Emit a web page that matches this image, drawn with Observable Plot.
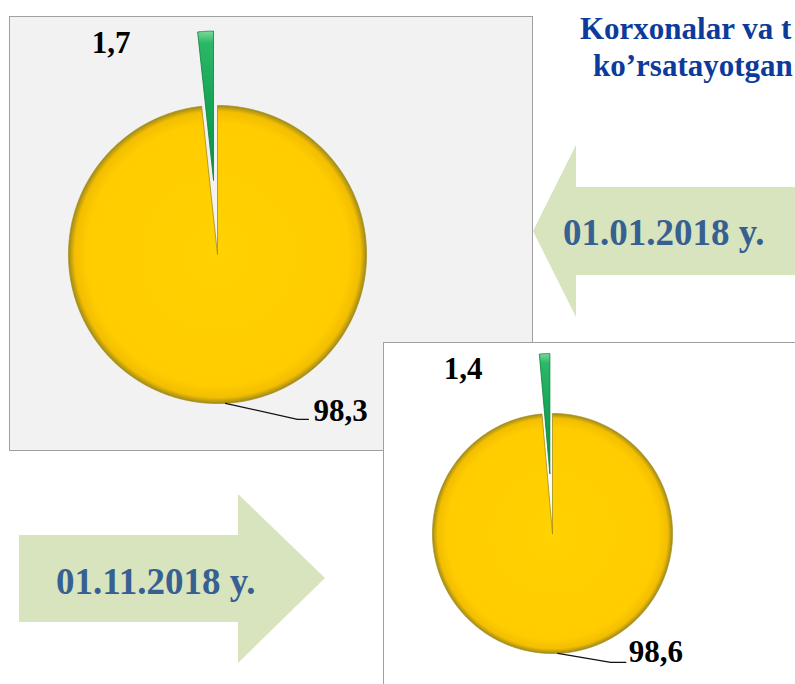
<!DOCTYPE html>
<html>
<head>
<meta charset="utf-8">
<script src="https://cdn.jsdelivr.net/npm/d3@7"></script>
<script src="https://cdn.jsdelivr.net/npm/@observablehq/plot@0.6"></script>
<style>
  html, body { margin: 0; padding: 0; }
  body { width: 795px; height: 684px; overflow: hidden; position: relative; background: #fff;
         font-family: "Liberation Serif", "Times New Roman", serif; }
  .panel { position: absolute; box-sizing: border-box; border: 1.5px solid #a0a0a0; }
  #panel1 { left: 9px; top: 16px; width: 524px; height: 435px; background: #f2f2f2; }
  #panel2 { left: 383px; top: 342px; width: 430px; height: 360px; background: #ffffff; }
  .chart { position: absolute; }
  #chart1 { left: 9px; top: 16px; width: 523px; height: 434px; }
  #chart2 { left: 383px; top: 342px; width: 412px; height: 342px; }
  .arrow { position: absolute; background: #d7e4bd; }
  #arrow1 { left: 533px; top: 145px; width: 270px; height: 172px;
            clip-path: polygon(0px 86px, 43px 0px, 43px 42px, 270px 42px, 270px 130px, 43px 130px, 43px 172px); }
  #arrow2 { left: 19px; top: 494px; width: 306px; height: 169px;
            clip-path: polygon(0px 41px, 219px 41px, 219px 0px, 306px 84px, 219px 169px, 219px 128px, 0px 128px); }
  .date { position: absolute; font-weight: bold; font-size: 37px; line-height: 1; color: #376092; white-space: nowrap; }
  .title { position: absolute; font-weight: bold; font-size: 31px; line-height: 1; color: #0c3b9c; white-space: nowrap; }
</style>
</head>
<body>
<svg width="0" height="0" style="position:absolute">
  <defs>
    <radialGradient id="gYellow" cx="50%" cy="50%" r="50%">
      <stop offset="0%" stop-color="#ffd200"/>
      <stop offset="88%" stop-color="#ffcc00"/>
      <stop offset="96%" stop-color="#f2be00"/>
      <stop offset="100%" stop-color="#a08a1a"/>
    </radialGradient>
    <linearGradient id="gGreen" x1="0" y1="0" x2="0" y2="1">
      <stop offset="0%" stop-color="#7ad99a"/>
      <stop offset="8%" stop-color="#2bb866"/>
      <stop offset="45%" stop-color="#17a757"/>
      <stop offset="100%" stop-color="#0b9145"/>
    </linearGradient>
  </defs>
</svg>

<div class="panel" id="panel1"></div>
<div class="chart" id="chart1"></div>
<div class="panel" id="panel2"></div>
<div class="chart" id="chart2"></div>

<div class="arrow" id="arrow1"></div>
<div class="arrow" id="arrow2"></div>
<div class="date" id="date1" style="left:563px; top:214px;"></div>
<div class="date" id="date2" style="left:56px; top:563px;"></div>

<div class="title" style="left:580px; top:13px;">Korxonalar va t</div>
<div class="title" style="left:593px; top:50px;">ko’rsatayotgan</div>

<script>
// ---- data ----
const dateLabels = ["01.01.2018 y.", "01.11.2018 y."];
const sliceKeys = ["main", "other"];
const sharesJan2018 = [98.3, 1.7];
const sharesNov2018 = [98.6, 1.4];

document.getElementById("date1").textContent = dateLabels[0];
document.getElementById("date2").textContent = dateLabels[1];

const fmt = v => d3.format(".1f")(v).replace(".", ",");

function drawPie(values, o) {
  const arcs = d3.pie().sort(null).value(d => d)(values);
  const poly = [];
  arcs.forEach((a, i) => {
    const mid = (a.startAngle + a.endAngle) / 2;
    const off = i === 1 ? o.explode : 0;
    const ox = off * Math.sin(mid), oy = -off * Math.cos(mid);
    const n = Math.max(2, Math.ceil((a.endAngle - a.startAngle) / 0.005));
    poly.push({slice: sliceKeys[i], x: ox, y: oy});
    for (let k = 0; k <= n; k++) {
      const t = a.startAngle + (a.endAngle - a.startAngle) * k / n;
      poly.push({slice: sliceKeys[i], x: ox + Math.sin(t), y: oy - Math.cos(t)});
    }
    poly.push({slice: sliceKeys[i], x: ox, y: oy});
  });
  const big = arcs[0], small = arcs[1];
  const bm = (big.startAngle + big.endAngle) / 2;
  const ex = Math.sin(bm), ey = -Math.cos(bm);
  const px = 1 / o.r;
  const leader = [
    {x: ex, y: ey},
    {x: ex + o.elbow[0] * px, y: ey + o.elbow[1] * px},
    {x: ex + o.end[0] * px, y: ey + o.end[1] * px}
  ];
  const sm = (small.startAngle + small.endAngle) / 2;
  const sx = (1 + o.explode) * Math.sin(sm), sy = -(1 + o.explode) * Math.cos(sm);
  const bigLabel = [{x: ex + o.bigLabel[0] * px, y: ey + o.bigLabel[1] * px, text: fmt(values[0])}];
  const smallLabel = [{x: sx + o.smallLabel[0] * px, y: sy + o.smallLabel[1] * px, text: fmt(values[1])}];
  const textStyle = {fontFamily: "Liberation Serif", fontSize: 31, fontWeight: "bold", fill: "#000"};
  return Plot.plot({
    width: o.width, height: o.height, margin: 0,
    x: {domain: [-o.cx / o.r, (o.width - o.cx) / o.r], range: [0, o.width], axis: null},
    y: {domain: [-o.cy / o.r, (o.height - o.cy) / o.r], range: [0, o.height], axis: null},
    style: {background: "transparent", overflow: "visible", maxWidth: "none"},
    marks: [
      Plot.line(poly.filter(d => d.slice === sliceKeys[0]), {x: "x", y: "y", fill: "url(#gYellow)", stroke: "#a48c1c", strokeWidth: 1, strokeOpacity: 0.8}),
      Plot.line(poly.filter(d => d.slice === sliceKeys[1]), {x: "x", y: "y", fill: "url(#gGreen)", stroke: "#0d7d3c", strokeWidth: 0.8}),
      Plot.line(leader, {x: "x", y: "y", stroke: "#111", strokeWidth: 1.3}),
      Plot.text(bigLabel, {x: "x", y: "y", text: "text", textAnchor: "start", ...textStyle}),
      Plot.text(smallLabel, {x: "x", y: "y", text: "text", textAnchor: "end", ...textStyle})
    ]
  });
}

document.getElementById("chart1").append(drawPie(sharesJan2018, {
  width: 523, height: 434, cx: 208, cy: 238, r: 149, explode: 0.5,
  elbow: [72, 16], end: [83, 16], bigLabel: [88, 8], smallLabel: [-75, 12]
}));
document.getElementById("chart2").append(drawPie(sharesNov2018, {
  width: 412, height: 342, cx: 169, cy: 191, r: 120, explode: 0.5,
  elbow: [53, 9], end: [68, 9], bigLabel: [71, -1], smallLabel: [-62, 15]
}));
</script>
</body>
</html>
